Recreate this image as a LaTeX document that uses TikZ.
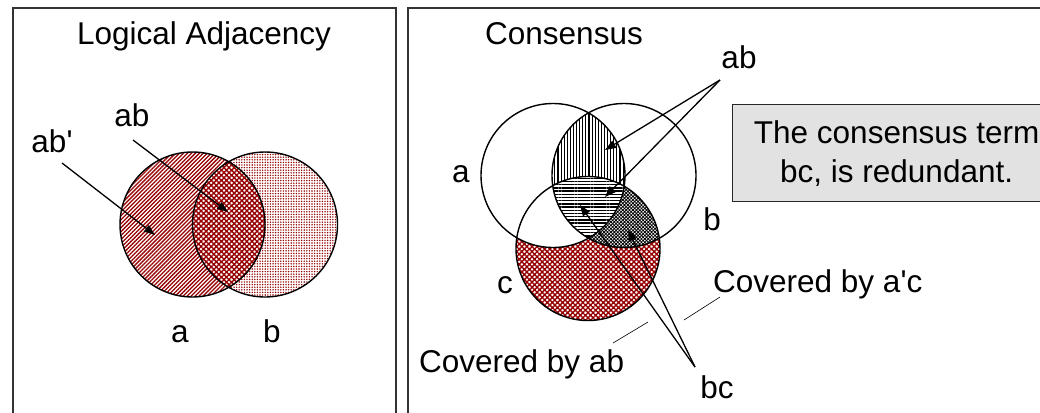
\documentclass[tikz,border=0pt]{standalone}
\usepackage{fontspec}
\setmainfont{Liberation Sans}
\usetikzlibrary{patterns.meta,arrows.meta}
\definecolor{hred}{RGB}{150,0,0}
\definecolor{boxgray}{RGB}{226,226,226}
\begin{document}
\begin{tikzpicture}[x=1pt,y=-1pt,
  every node/.style={font=\fontsize{31.5}{39}\selectfont, inner sep=0pt},
  lbl/.style={anchor=base},
  frame/.style={draw=black!80, line width=1.5pt},
  venn/.style={draw=black, line width=1.4pt},
  ptr/.style={line width=1.3pt, -{Triangle[length=11pt,width=8pt]}},
  leader/.style={line width=0.6pt},
  patA/.style={pattern={Lines[angle=45,distance=2.8pt,line width=1.3pt]}, pattern color=hred},
  patB/.style={pattern={Dots[distance=2.6pt,radius=0.8pt]}, pattern color=hred},
  patAB/.style={pattern={Hatch[angle=45,distance=3.6pt,line width=1.4pt]}, pattern color=hred},
  patV/.style={pattern={Lines[angle=90,distance=3.1pt,line width=1.1pt]}, pattern color=black},
  patH/.style={pattern={Lines[angle=0,distance=3.2pt,line width=1.4pt]}, pattern color=black},
  patD/.style={pattern={Hatch[angle=45,distance=2.4pt,line width=0.8pt]}, pattern color=black}]
\useasboundingbox (0,0) rectangle (1040,412);
\clip (0,0) rectangle (1040,412);
\fill[white] (0,0) rectangle (1040,412);

% ---------- left panel ----------
\draw[frame] (13,8) rectangle (396,440);
\node[lbl] (tL) at (204,45) {Logical Adjacency};
\coordinate (ca) at (192.5,224.5);
\coordinate (cb) at (265,224.5);
\fill[patA] (ca) circle (72.5pt);
\fill[patB] (cb) circle (72.5pt);
\begin{scope}
  \clip (ca) circle (72.5pt);
  \fill[white] (cb) circle (72.5pt);
  \fill[patAB] (cb) circle (72.5pt);
\end{scope}
\draw[venn] (ca) circle (72.5pt) (cb) circle (72.5pt);
\node[lbl] (lAbp) at (52,152) {ab\textquotesingle};
\node[lbl] (lAb) at (132,126) {ab};
\node[lbl] (lA) at (180,342) {a};
\node[lbl] (lB) at (272,342) {b};
\coordinate (s1) at (62,163);
\coordinate (e1) at (155,235);
\coordinate (s2) at (133,140);
\coordinate (e2) at (228,212);
\draw[ptr] (s1) -- (e1);
\draw[ptr] (s2) -- (e2);

% ---------- right panel ----------
\draw[frame] (408,8) rectangle (1060,440);
\node[lbl] (tR) at (564,45) {Consensus};
\coordinate (A) at (553,175.5);
\coordinate (B) at (624,175.5);
\coordinate (C) at (588,248.5);
\fill[patAB] (C) circle (72pt);
\fill[white] (A) circle (72pt);
\fill[white] (B) circle (72pt);
\begin{scope}
  \clip (B) circle (72pt);
  \clip (C) circle (72pt);
  \fill[patD] (C) circle (72pt);
\end{scope}
\begin{scope}
  \clip (A) circle (72pt);
  \clip (B) circle (72pt);
  \fill[white] (B) circle (72pt);
  \fill[patV] (B) circle (72pt);
  \clip (C) circle (72pt);
  \fill[white] (C) circle (72pt);
  \fill[patH] (C) circle (72pt);
\end{scope}
\draw[venn] (A) circle (72pt) (B) circle (72pt) (C) circle (72pt);

\node[lbl] (ra) at (461,182) {a};
\node[lbl] (rb) at (712,230) {b};
\node[lbl] (rc) at (505,293) {c};
\node[lbl] (rab) at (739,68) {ab};
\node[lbl] (rbc) at (717,398) {bc};
\node[anchor=base west] (cab) at (419,372) {Covered by ab};
\node[anchor=base west] (cac) at (713,292) {Covered by a\textquotesingle c};

\node[draw=black!85, line width=1.3pt, fill=boxgray, minimum width=328pt,
      minimum height=97pt, align=center, anchor=north west] (box) at (732,104)
      {The consensus term\\bc, is redundant.};

\coordinate (abtip) at (720,80);
\coordinate (p1) at (605,150);
\coordinate (p2) at (605,197);
\draw[ptr] (abtip) -- (p1);
\draw[ptr] (abtip) -- (p2);
\coordinate (bctip) at (695,367);
\coordinate (q1) at (580,205);
\coordinate (q2) at (628,230);
\draw[ptr] (bctip) -- (q1);
\draw[ptr] (bctip) -- (q2);

\coordinate (l1a) at (613,343);
\coordinate (l1b) at (648,322);
\coordinate (l2a) at (720,297);
\coordinate (l2b) at (684,320);
\draw[leader] (l1a) -- (l1b);
\draw[leader] (l2a) -- (l2b);
\end{tikzpicture}
\end{document}
